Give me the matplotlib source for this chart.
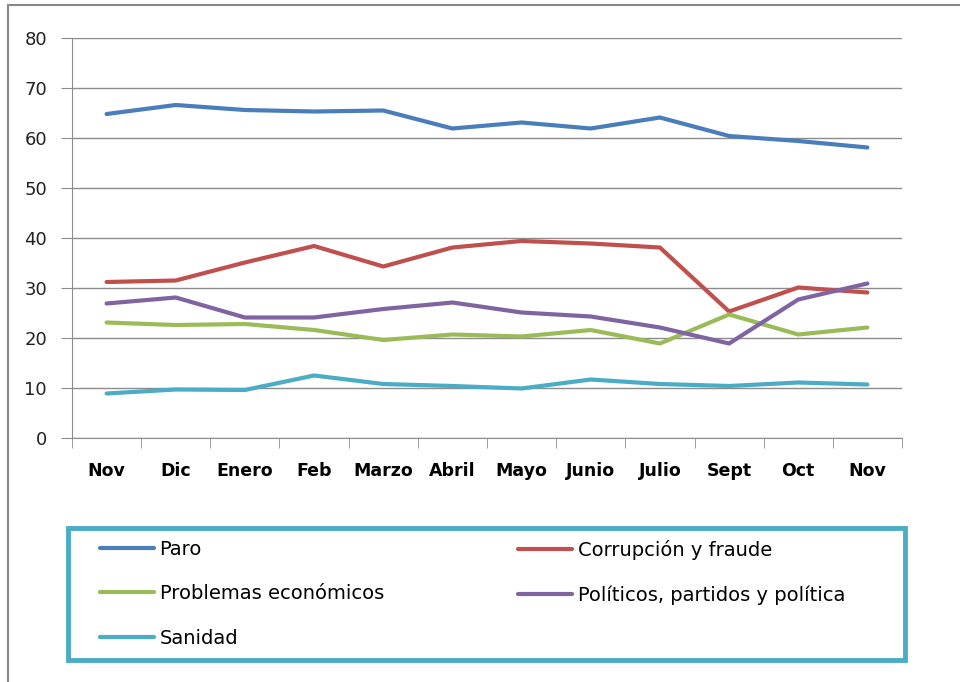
import matplotlib
matplotlib.use("Agg")
from matplotlib import pyplot as plt
from matplotlib.patches import Rectangle

# months (Nov -> Nov)
months = ["Nov", "Dic", "Enero", "Feb", "Marzo", "Abril", "Mayo", "Junio", "Julio", "Sept", "Oct", "Nov"]

paro = [64.8, 66.6, 65.6, 65.3, 65.5, 61.9, 63.1, 61.9, 64.1, 60.4, 59.4, 58.1]
corrupcion = [31.2, 31.5, 35.1, 38.4, 34.3, 38.1, 39.4, 38.9, 38.1, 25.3, 30.1, 29.1]
problemas = [23.1, 22.6, 22.8, 21.6, 19.6, 20.7, 20.3, 21.6, 18.9, 24.7, 20.7, 22.1]
politicos = [26.9, 28.1, 24.1, 24.1, 25.8, 27.1, 25.1, 24.3, 22.1, 18.9, 27.7, 30.9]
sanidad = [8.9, 9.7, 9.6, 12.5, 10.8, 10.4, 9.9, 11.7, 10.8, 10.4, 11.1, 10.7]

labels = ["Paro", "Corrupción y fraude", "Problemas económicos",
          "Políticos, partidos y política", "Sanidad"]
colors = ["#4A7EBB", "#C0504D", "#9BBB59", "#8064A2", "#4BACC6"]

plt.rcParams['font.family'] = ['DejaVu Sans']

fig = plt.figure(figsize=(9.6, 6.82), dpi=100)

# outer chart frame
fig.patches.append(Rectangle((8 / 960, -0.1), 1.2, 1 - 5 / 682 + 0.1,
                             transform=fig.transFigure, fill=False,
                             edgecolor="#888888", linewidth=1.5))

ax = fig.add_axes([72 / 960, 1 - 438 / 682, (902 - 72) / 960, 400 / 682])

x = list(range(len(months)))
lines = {}
for name, vals, col in zip(labels, [paro, corrupcion, problemas, politicos, sanidad], colors):
    lines[name], = ax.plot(x, vals, color=col, linewidth=3, solid_capstyle="round", label=name)

ax.set_xlim(-0.5, len(months) - 0.5)
ax.set_ylim(0, 80)
ax.set_yticks(range(0, 81, 10))
ax.yaxis.grid(True, color="#8C8C8C", linewidth=1)
ax.set_axisbelow(True)

ax.set_xticks(x)
ax.set_xticklabels(months, fontweight="bold", fontsize=12.5)
ax.set_xticks([i - 0.5 for i in range(len(months) + 1)], minor=True)
ax.tick_params(axis="x", which="major", length=0, pad=17)
ax.tick_params(axis="x", which="minor", length=7, color="#8C8C8C", direction="out")
ax.tick_params(axis="y", length=8, color="#8C8C8C", labelsize=13, pad=10, labelcolor="#222222")

for side in ["top", "right"]:
    ax.spines[side].set_visible(False)
for side in ["left", "bottom"]:
    ax.spines[side].set_color("#8C8C8C")

# legend box
fig.patches.append(Rectangle((68 / 960, 1 - 660 / 682), (905 - 68) / 960, 132 / 682,
                             transform=fig.transFigure, fill=False,
                             edgecolor="#4BACC6", linewidth=3.5))

leg_kw = dict(loc="upper left", fontsize=14, handlelength=2.8, handletextpad=0.26,
              labelspacing=1.3, borderpad=0, borderaxespad=0, frameon=False)
col1 = [labels[0], labels[2], labels[4]]
col2 = [labels[1], labels[3]]
fig.legend([lines[n] for n in col1], col1,
           bbox_to_anchor=(100 / 960, 1 - 540 / 682), **leg_kw)
fig.legend([lines[n] for n in col2], col2,
           bbox_to_anchor=(518 / 960, 1 - 540 / 682), **leg_kw)

fig.savefig("out.png", dpi=100)
